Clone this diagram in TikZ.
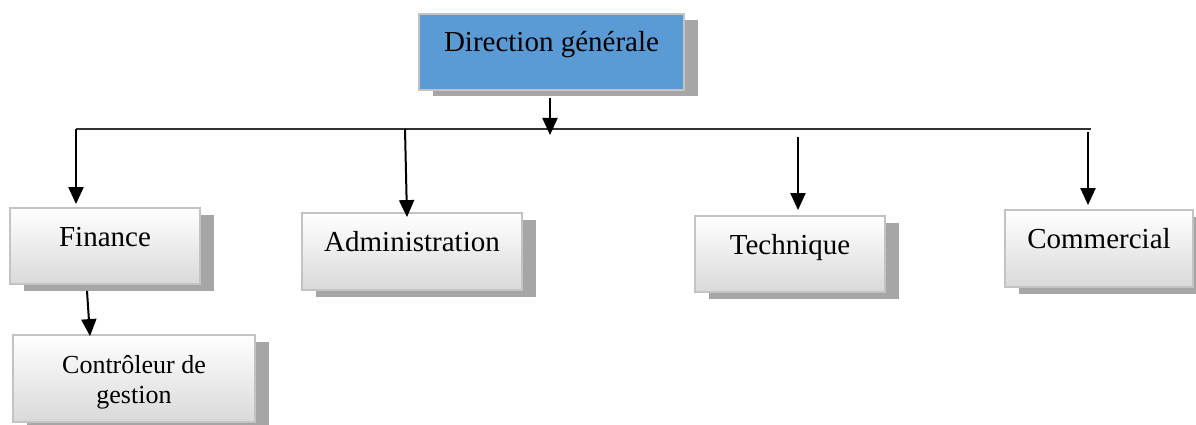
\documentclass[tikz,border=0pt]{standalone}
\usepackage{fontspec}
\setmainfont{Liberation Serif}
\usetikzlibrary{arrows.meta,shadows}

\definecolor{dgblue}{HTML}{5B9BD5}
\definecolor{boxline}{HTML}{C3C3C3}
\definecolor{boxshade}{HTML}{D9D9D9}
\definecolor{shadowgray}{HTML}{A6A6A6}
\definecolor{busline}{HTML}{333333}

\tikzset{
  unitbox/.style={
    draw=boxline, line width=1.8pt, rectangle, inner sep=0pt,
    general shadow={fill=shadowgray, draw=none, shadow xshift=13.5pt, shadow yshift=-6.5pt}
  },
  oneline/.style={font=\fontsize{29}{34}\selectfont, text height=0pt, text depth=0pt},
  greybox/.style={unitbox, top color=white, bottom color=boxshade},
  bluebox/.style={unitbox, fill=dgblue},
  arr/.style={line width=2pt, -{Triangle[width=15pt,length=17pt]}},
  bus/.style={line width=1.2pt, draw=busline}
}

\begin{document}
\begin{tikzpicture}[x=1pt,y=-1pt]
  \path[use as bounding box] (0,0) rectangle (1196,425);

  % boxes
  \node[bluebox, oneline, minimum width=265pt, minimum height=76pt] (dg) at (551.5,52) {Direction générale};
  \node[greybox, oneline, minimum width=190pt, minimum height=76pt] (fin) at (105,246) {Finance};
  \node[greybox, oneline, minimum width=220pt, minimum height=77pt] (adm) at (412,251.5) {Administration};
  \node[greybox, oneline, minimum width=190pt, minimum height=76pt] (tec) at (790,254) {Technique};
  \node[greybox, oneline, minimum width=188pt, minimum height=77pt] (com) at (1099,248.5) {Commercial};
  \node[greybox, minimum width=242pt, minimum height=87pt,
        label={[yshift=-3.5pt, align=center, font=\fontsize{26}{30}\selectfont]center:{Contrôleur de\\gestion}}]
        (ctl) at (134,378.5) {};

  % distribution line
  \coordinate (busL) at (76,129);
  \coordinate (busR) at (1091,129);
  \draw[bus] (busL) -- (busR);

  % connectors
  \coordinate (dgtip) at (550,135);
  \draw[arr] ([xshift=-1.5pt,yshift=-7pt]dg.south) -- (dgtip);
  \draw[arr] (busL) -- ([yshift=3pt]fin.north -| busL);
  \coordinate (admtop) at (405,129);
  \draw[arr] (admtop) -- ([xshift=-5pt,yshift=-5pt]adm.north);
  \coordinate (tectop) at (798,137);
  \draw[arr] (tectop) -- ([xshift=8pt,yshift=5pt]tec.north);
  \coordinate (comtop) at (1088,132);
  \draw[arr] (comtop) -- ([xshift=-11pt,yshift=4pt]com.north);
  \draw[arr] ([xshift=-18pt,yshift=-6pt]fin.south) -- ([xshift=-44pt,yshift=-2pt]ctl.north);
\end{tikzpicture}
\end{document}
